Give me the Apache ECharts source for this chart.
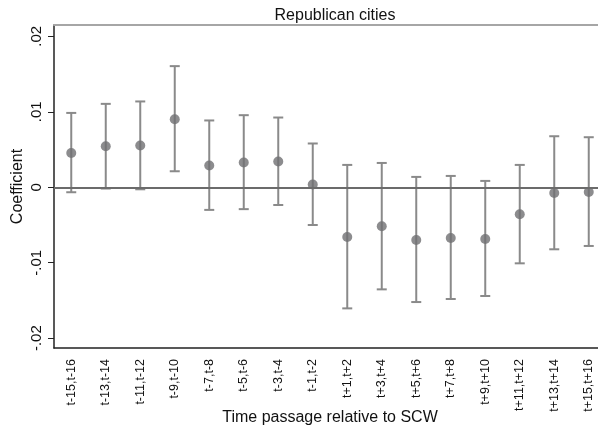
<!DOCTYPE html>
<html>
<head>
<meta charset="utf-8">
<title>Republican cities</title>
<script src="https://cdn.jsdelivr.net/npm/echarts@6/dist/echarts.min.js"></script>
<style>
  html, body { margin: 0; padding: 0; background: #fff; }
  #chart { width: 598px; height: 431px; }
</style>
</head>
<body>
<div id="chart"></div>
<script>
// categories (x axis)
var periods = ['t-15,t-16', 't-13,t-14', 't-11,t-12', 't-9,t-10', 't-7,t-8', 't-5,t-6', 't-3,t-4', 't-1,t-2',
  't+1,t+2', 't+3,t+4', 't+5,t+6', 't+7,t+8', 't+9,t+10', 't+11,t+12', 't+13,t+14', 't+15,t+16'];
// point estimates
var coef = [0.00455, 0.00544, 0.00553, 0.00902, 0.00288, 0.00328, 0.00341, 0.00036,
  -0.00659, -0.00517, -0.00699, -0.00672, -0.00686, -0.00358, -0.00075, -0.00062];
// confidence interval bounds
var ciLow = [-0.00066, -0.00017, -0.00027, 0.00212, -0.00300, -0.00290, -0.00235, -0.00500,
  -0.01605, -0.01353, -0.01521, -0.01481, -0.01441, -0.01008, -0.00822, -0.00778];
var ciHigh = [0.00985, 0.01105, 0.01137, 0.01605, 0.00885, 0.00955, 0.00924, 0.00580,
  0.00296, 0.00322, 0.00137, 0.00150, 0.00084, 0.00296, 0.00676, 0.00663];
// y tick labels
var yTicks = [-0.02, -0.01, 0, 0.01, 0.02];

var font = 'Liberation Sans, Arial, sans-serif';

function fmt(v) {
  if (Math.abs(v) < 1e-9) return '0';
  var s = (Math.round(v * 100) / 100).toString();
  return s.replace('0.', '.');
}

var barData = [];
for (var i = 0; i < periods.length; i++) {
  barData.push([i, ciLow[i], ciHigh[i]]);
}

var chart = echarts.init(document.getElementById('chart'));
chart.setOption({
  animation: false,
  title: {
    text: 'Republican cities',
    left: 330,
    top: 3,
    textAlign: 'center',
    textStyle: { fontFamily: font, fontSize: 16, fontWeight: 'normal', color: '#111' }
  },
  grid: { left: 54, top: 25, width: 552, bottom: 83, outerBoundsMode: 'none', containLabel: false },
  xAxis: [
    {
      type: 'category',
      data: periods,
      boundaryGap: true,
      name: 'Time passage relative to SCW',
      nameLocation: 'middle',
      nameGap: 62,
      nameMoveOverlap: false,
      nameTextStyle: { fontFamily: font, fontSize: 16, color: '#111' },
      axisLine: { onZero: false, lineStyle: { color: '#222', width: 1.5 } },
      axisTick: { alignWithLabel: true, length: 6, lineStyle: { color: '#222' } },
      axisLabel: { rotate: 90, margin: 11, interval: 0, fontFamily: font, fontSize: 12.5, color: '#111' },
      splitLine: { show: false }
    },
    {
      // top frame line of the plot region
      type: 'category',
      data: periods,
      position: 'top',
      axisLine: { onZero: false, lineStyle: { color: '#a6a6a6', width: 2 } },
      axisTick: { show: false },
      axisLabel: { show: false }
    }
  ],
  yAxis: {
    type: 'value',
    min: -0.0213,
    max: 0.0215,
    name: 'Coefficient',
    nameLocation: 'middle',
    nameRotate: 90,
    nameGap: 28,
    nameMoveOverlap: false,
    nameTextStyle: { fontFamily: font, fontSize: 16, color: '#111' },
    axisLine: { show: true, onZero: false, lineStyle: { color: '#222', width: 1.5 } },
    axisTick: { show: true, length: 6, customValues: yTicks, lineStyle: { color: '#222' } },
    axisLabel: {
      rotate: 90, margin: 10, fontFamily: font, fontSize: 15, color: '#111',
      customValues: yTicks, formatter: fmt
    },
    splitLine: { show: false }
  },
  series: [
    {
      type: 'custom',
      data: barData,
      renderItem: function (params, api) {
        var x = api.value(0);
        var lo = api.coord([x, api.value(1)]);
        var hi = api.coord([x, api.value(2)]);
        var cap = 5;
        var style = { stroke: '#8a8a8a', lineWidth: 2 };
        return {
          type: 'group',
          children: [
            { type: 'line', shape: { x1: lo[0], y1: lo[1], x2: hi[0], y2: hi[1] }, style: style },
            { type: 'line', shape: { x1: lo[0] - cap, y1: lo[1], x2: lo[0] + cap, y2: lo[1] }, style: style },
            { type: 'line', shape: { x1: hi[0] - cap, y1: hi[1], x2: hi[0] + cap, y2: hi[1] }, style: style }
          ]
        };
      },
      z: 2
    },
    {
      type: 'scatter',
      data: coef,
      symbol: 'circle',
      symbolSize: 10,
      itemStyle: { color: '#6f6f72' },
      z: 3,
      markLine: {
        silent: true,
        symbol: 'none',
        label: { show: false },
        lineStyle: { color: '#6b6b6b', width: 2, type: 'solid' },
        data: [{ yAxis: 0 }]
      }
    }
  ]
});
</script>
</body>
</html>
